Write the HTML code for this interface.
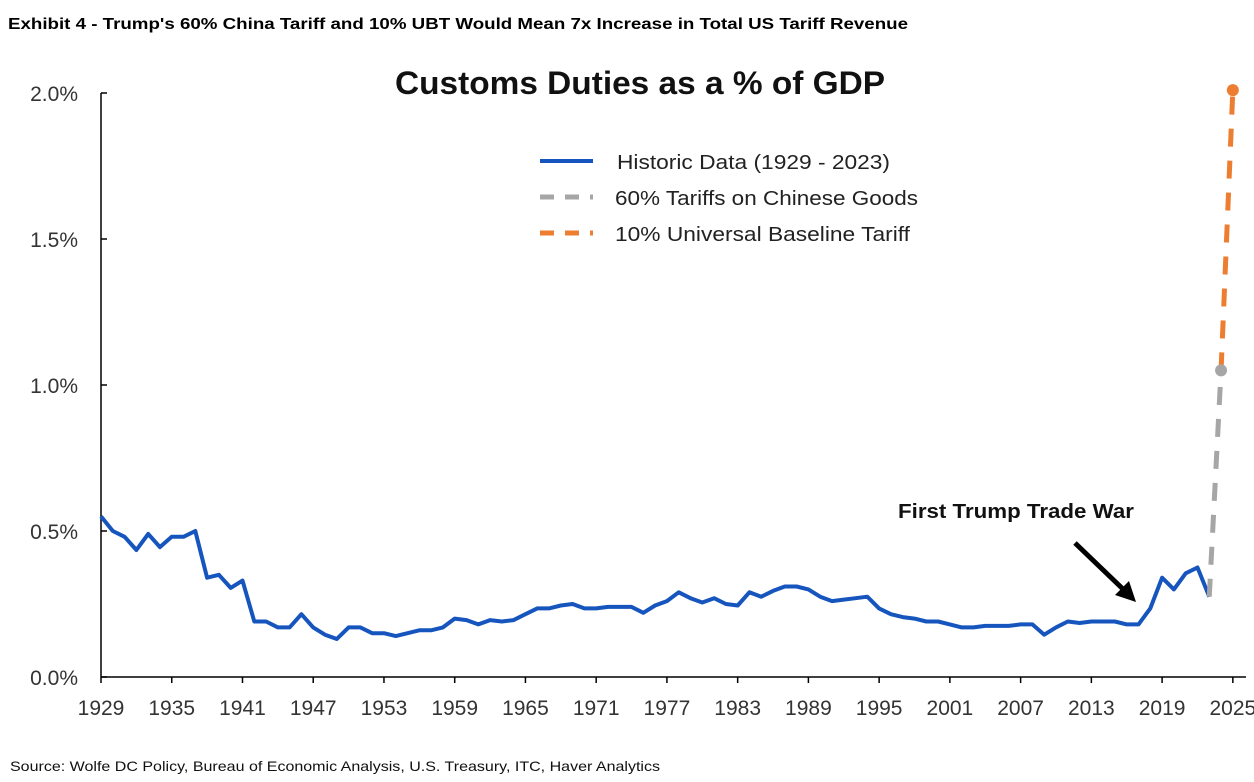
<!DOCTYPE html>
<html><head><meta charset="utf-8"><style>
body{margin:0;background:#fff;width:1254px;height:777px;overflow:hidden;font-family:"Liberation Sans",sans-serif}
svg text{font-family:"Liberation Sans",sans-serif}
</style></head><body>
<svg id="c" width="1254" height="777">
<text x="8" y="29" font-size="16" font-weight="bold" fill="#000" textLength="900" lengthAdjust="spacingAndGlyphs">Exhibit 4 - Trump's 60% China Tariff and 10% UBT Would Mean 7x Increase in Total US Tariff Revenue</text>
<text x="395" y="94" font-size="32" font-weight="bold" fill="#111" textLength="490" lengthAdjust="spacingAndGlyphs">Customs Duties as a % of GDP</text>
<text x="10" y="771" font-size="14" fill="#111" textLength="650" lengthAdjust="spacingAndGlyphs">Source: Wolfe DC Policy, Bureau of Economic Analysis, U.S. Treasury, ITC, Haver Analytics</text>
<g>
<line x1="540" y1="161" x2="593" y2="161" stroke="#1655BD" stroke-width="4"/>
<text x="617" y="169" font-size="20" fill="#222" textLength="273" lengthAdjust="spacingAndGlyphs">Historic Data (1929 - 2023)</text>
<line x1="540" y1="197" x2="593" y2="197" stroke="#A6A6A6" stroke-width="5" stroke-dasharray="14,11"/>
<text x="615" y="205" font-size="20" fill="#222" textLength="303" lengthAdjust="spacingAndGlyphs">60% Tariffs on Chinese Goods</text>
<line x1="540" y1="233" x2="593" y2="233" stroke="#ED7D31" stroke-width="5" stroke-dasharray="14,11"/>
<text x="615" y="241" font-size="20" fill="#222" textLength="295" lengthAdjust="spacingAndGlyphs">10% Universal Baseline Tariff</text>
</g>
<text x="898" y="518" font-size="20" font-weight="bold" fill="#111" textLength="236" lengthAdjust="spacingAndGlyphs">First Trump Trade War</text>
<line x1="1075" y1="543" x2="1125" y2="591" stroke="#000" stroke-width="5"/>
<polygon points="1136,602 1115,595 1129,581" fill="#000"/>
</svg>
<script>
const startYear = 1929;
const historic = [0.55,0.50,0.48,0.435,0.49,0.445,0.48,0.48,0.50,0.34,0.35,0.305,0.33,0.19,0.19,0.17,0.17,0.215,0.17,0.145,0.13,0.17,0.17,0.15,0.15,0.14,0.15,0.16,0.16,0.17,0.20,0.195,0.18,0.195,0.19,0.195,0.215,0.235,0.235,0.245,0.25,0.235,0.235,0.24,0.24,0.24,0.22,0.245,0.26,0.29,0.27,0.255,0.27,0.25,0.245,0.29,0.275,0.295,0.31,0.31,0.30,0.275,0.26,0.265,0.27,0.275,0.235,0.215,0.205,0.20,0.19,0.19,0.18,0.17,0.17,0.175,0.175,0.175,0.18,0.18,0.145,0.17,0.19,0.185,0.19,0.19,0.19,0.18,0.18,0.235,0.34,0.30,0.355,0.375,0.275];
const chinaYears = [2023,2024];
const chinaVals = [0.275,1.05];
const ubtYears = [2024,2025];
const ubtVals = [1.05,2.01];
const yTicks = [0,0.5,1.0,1.5,2.0];
const yTickLabels = ["0.0%","0.5%","1.0%","1.5%","2.0%"];
const xTicks = [1929,1935,1941,1947,1953,1959,1965,1971,1977,1983,1989,1995,2001,2007,2013,2019,2025];

const svg = document.getElementById('c');
const NS = 'http://www.w3.org/2000/svg';
const X = y => 101 + (y - 1929) * 11.79;
const Y = v => 677 - v * 292;
function mk(tag, attrs){const e=document.createElementNS(NS,tag);for(const k in attrs)e.setAttribute(k,attrs[k]);svg.appendChild(e);return e;}

let e = mk('line',{x1:101,y1:Y(2.0),x2:101,y2:677,stroke:'#000','stroke-width':1.5});


e = mk('line',{x1:101,y1:677,x2:1246,y2:677,stroke:'#000','stroke-width':1.5});


yTicks.forEach((v,i)=>{
  const t = mk('line',{x1:101,y1:Y(v),x2:107,y2:Y(v),stroke:'#000','stroke-width':1.5});
  
  
  const l = mk('text',{x:78,y:Y(v)+8,'font-size':21,'text-anchor':'end',fill:'#333'});
  l.textContent = yTickLabels[i];
  
  
});
xTicks.forEach(yr=>{
  const t = mk('line',{x1:X(yr),y1:677,x2:X(yr),y2:683,stroke:'#000','stroke-width':1.5});
  
  
  const l = mk('text',{x:X(yr),y:715,'font-size':21,'text-anchor':'middle',fill:'#333'});
  l.textContent = yr;
  
  
});
const hp = historic.map((v,i)=>X(startYear+i).toFixed(1)+','+Y(v).toFixed(1)).join(' ');
e = mk('polyline',{points:hp,fill:'none',stroke:'#1655BD','stroke-width':4,'stroke-linejoin':'round'});


const cp = chinaYears.map((y,i)=>X(y)+','+Y(chinaVals[i])).join(' ');
e = mk('polyline',{points:cp,fill:'none',stroke:'#A6A6A6','stroke-width':5,'stroke-dasharray':'18,14'});


const up = ubtYears.map((y,i)=>X(y)+','+Y(ubtVals[i])).join(' ');
e = mk('polyline',{points:up,fill:'none',stroke:'#ED7D31','stroke-width':5,'stroke-dasharray':'18,14'});


e = mk('circle',{cx:X(chinaYears[1]),cy:Y(chinaVals[1]),r:6,fill:'#A6A6A6'});


e = mk('circle',{cx:X(ubtYears[1]),cy:Y(ubtVals[1]),r:6,fill:'#ED7D31'});


</script>
</body></html>
